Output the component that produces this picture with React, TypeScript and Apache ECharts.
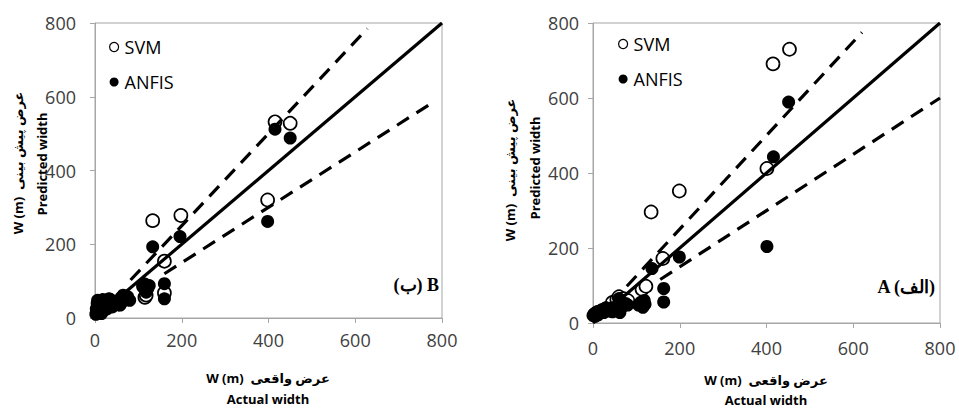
import React, { useEffect, useRef } from "react";
import * as echarts from "echarts";

// ---- data ----
const axisTicks = [0, 200, 400, 600, 800];

// Left panel (B)
const leftSvm: number[][] = [
  [415, 532], [450, 528], [398, 320], [133, 264], [198, 278], [160, 154], [160, 68], [115, 56], [118, 62],
  [5, 15], [8, 30], [12, 22], [15, 40], [20, 28], [25, 45], [30, 35], [35, 48], [55, 38], [60, 45], [70, 52],
  [112, 90], [120, 82],
];
const leftAnfis: number[][] = [
  [415, 512], [450, 488], [398, 262], [133, 193], [196, 221], [160, 93], [160, 52],
  [110, 85], [115, 92], [120, 78], [118, 70], [125, 88],
  [2, 10], [3, 25], [5, 40], [6, 48], [8, 18], [10, 35], [12, 45], [15, 12], [15, 30], [18, 50],
  [20, 20], [22, 38], [25, 48], [28, 25], [30, 42], [32, 52], [35, 35], [38, 45], [40, 30],
  [50, 40], [55, 48], [60, 55], [65, 62], [70, 50], [75, 58], [80, 48], [58, 35],
];
const leftIdeal: number[][] = [[0, 0], [800, 800]];
const leftUpper: number[][] = [[82, 103], [628, 785]];
const leftLower: number[][] = [[160, 120], [778, 584]];

// Right panel (A)
const rightSvm: number[][] = [
  [453, 730], [415, 691], [401, 412], [134, 296], [199, 352], [161, 172], [113, 90], [122, 98],
  [45, 55], [55, 62], [5, 22], [10, 28], [20, 32], [30, 38], [60, 70], [70, 65], [80, 60],
];
const rightAnfis: number[][] = [
  [451, 589], [416, 443], [401, 204], [199, 176], [136, 145], [163, 92], [163, 56],
  [110, 55], [115, 42], [120, 50], [105, 48], [118, 60],
  [0, 20], [3, 25], [5, 18], [8, 28], [12, 22], [15, 30], [20, 35], [25, 28], [30, 40], [35, 32],
  [40, 38], [45, 30], [50, 42], [55, 35], [60, 48], [62, 28], [65, 55], [70, 45], [75, 52], [80, 48], [60, 65],
];
const rightIdeal: number[][] = [[0, 0], [800, 800]];
const rightUpper: number[][] = [[78, 98], [620, 775]];
const rightLower: number[][] = [[155, 116], [800, 600]];

const seriesNames = ["SVM", "ANFIS"];
const xName = ["W (m)  عرض واقعی", "Actual width"];
const yName = ["W (m)  عرض پیش بینی", "Predicted width"];
const panelLabels = ["(ب) B", "A (الف)"];

const FONT = "'Open Sans', 'DejaVu Sans', sans-serif";
const AXIS_GRAY = "#a6a6a6";

export default function App() {
  const ref = useRef<HTMLDivElement>(null);
  useEffect(() => {
    if (!ref.current) return;
    const chart = echarts.init(ref.current, undefined, { renderer: "svg" });

    const mkAxis = (gridIndex: number, isX: boolean) => ({
      type: "value",
      gridIndex,
      min: axisTicks[0],
      max: axisTicks[axisTicks.length - 1],
      interval: 200,
      splitLine: { show: false },
      axisLine: { show: true, onZero: false, lineStyle: { color: AXIS_GRAY, width: 1 } },
      axisTick: { show: true, length: 5, inside: false, lineStyle: { color: AXIS_GRAY } },
      axisLabel: {
        color: "#404040",
        fontSize: 18,
        fontFamily: FONT,
        margin: isX ? (gridIndex === 0 ? 13 : 16) : gridIndex === 0 ? 19 : 14,
      },
    });

    const scatter = (name: string, data: number[][], idx: number, filled: boolean) => ({
      type: "scatter",
      name,
      xAxisIndex: idx,
      yAxisIndex: idx,
      data,
      symbol: "circle",
      symbolSize: 13,
      clip: false,
      z: filled ? 3 : 2,
      itemStyle: filled
        ? { color: "#000", opacity: 1 }
        : { color: "#fff", borderColor: "#000", borderWidth: 1.7, opacity: 1 },
    });

    const line = (data: number[][], idx: number, dashed: boolean) => ({
      type: "line",
      xAxisIndex: idx,
      yAxisIndex: idx,
      data,
      symbol: "none",
      silent: true,
      z: 4,
      lineStyle: { color: "#000", width: 3.2, type: dashed ? [14, 9] : "solid" },
    });

    const legend = (left: number, top: number) => ({
      orient: "vertical",
      left,
      top,
      itemWidth: 9,
      itemHeight: 9,
      itemGap: 17,
      icon: "circle",
      textStyle: { fontSize: 18, fontFamily: FONT, color: "#000", padding: [0, 0, 0, 1] },
      data: [
        { name: seriesNames[0], itemStyle: { color: "#fff", borderColor: "#000", borderWidth: 1.2, opacity: 1 } },
        { name: seriesNames[1], itemStyle: { color: "#000", opacity: 1 } },
      ],
    });

    const grids = [
      { left: 95, top: 23, width: 347, height: 295 },
      { left: 593, top: 23, width: 347, height: 300 },
    ];

    const axisNameText = (x: number, y: number, text: string, bold: boolean, rotation = 0) => ({
      type: "text",
      x,
      y,
      rotation,
      style: {
        text,
        fill: "#000",
        font: `${bold ? "bold " : ""}13px ${FONT}`,
        align: "center",
        verticalAlign: "middle",
      },
    });

    const option = {
      animation: false,
      grid: grids.map((g) => ({ ...g, show: true, borderColor: AXIS_GRAY, borderWidth: 1, backgroundColor: "transparent" })),
      xAxis: [mkAxis(0, true), mkAxis(1, true)],
      yAxis: [mkAxis(0, false), mkAxis(1, false)],
      legend: [legend(104, 33), legend(613, 30)],
      series: [
        scatter(seriesNames[0], leftSvm, 0, false),
        scatter(seriesNames[1], leftAnfis, 0, true),
        line(leftIdeal, 0, false),
        line(leftUpper, 0, true),
        line(leftLower, 0, true),
        scatter(seriesNames[0], rightSvm, 1, false),
        scatter(seriesNames[1], rightAnfis, 1, true),
        line(rightIdeal, 1, false),
        line(rightUpper, 1, true),
        line(rightLower, 1, true),
      ],
      graphic: [
        axisNameText(268, 378, xName[0], true),
        axisNameText(268, 399, xName[1], true),
        axisNameText(766, 380, xName[0], true),
        axisNameText(766, 400, xName[1], true),
        axisNameText(18, 163, yName[0], true, Math.PI / 2),
        axisNameText(42, 164, yName[1], true, Math.PI / 2),
        axisNameText(510, 170, yName[0], true, Math.PI / 2),
        axisNameText(535, 168, yName[1], true, Math.PI / 2),
        {
          type: "text",
          x: 439,
          y: 285,
          style: {
            text: panelLabels[0],
            fill: "#000",
            font: "bold 18px 'Liberation Serif', 'DejaVu Serif', serif",
            align: "right",
            verticalAlign: "middle",
          },
        },
        {
          type: "text",
          x: 935,
          y: 287,
          style: {
            text: panelLabels[1],
            fill: "#000",
            font: "bold 18px 'Liberation Serif', 'DejaVu Serif', serif",
            align: "right",
            verticalAlign: "middle",
          },
        },
      ],
    };

    chart.setOption(option as any);
    return () => chart.dispose();
  }, []);

  return (
    <div
      ref={ref}
      style={{ position: "fixed", left: 0, top: 0, width: 959, height: 410, background: "#fff" }}
    />
  );
}
